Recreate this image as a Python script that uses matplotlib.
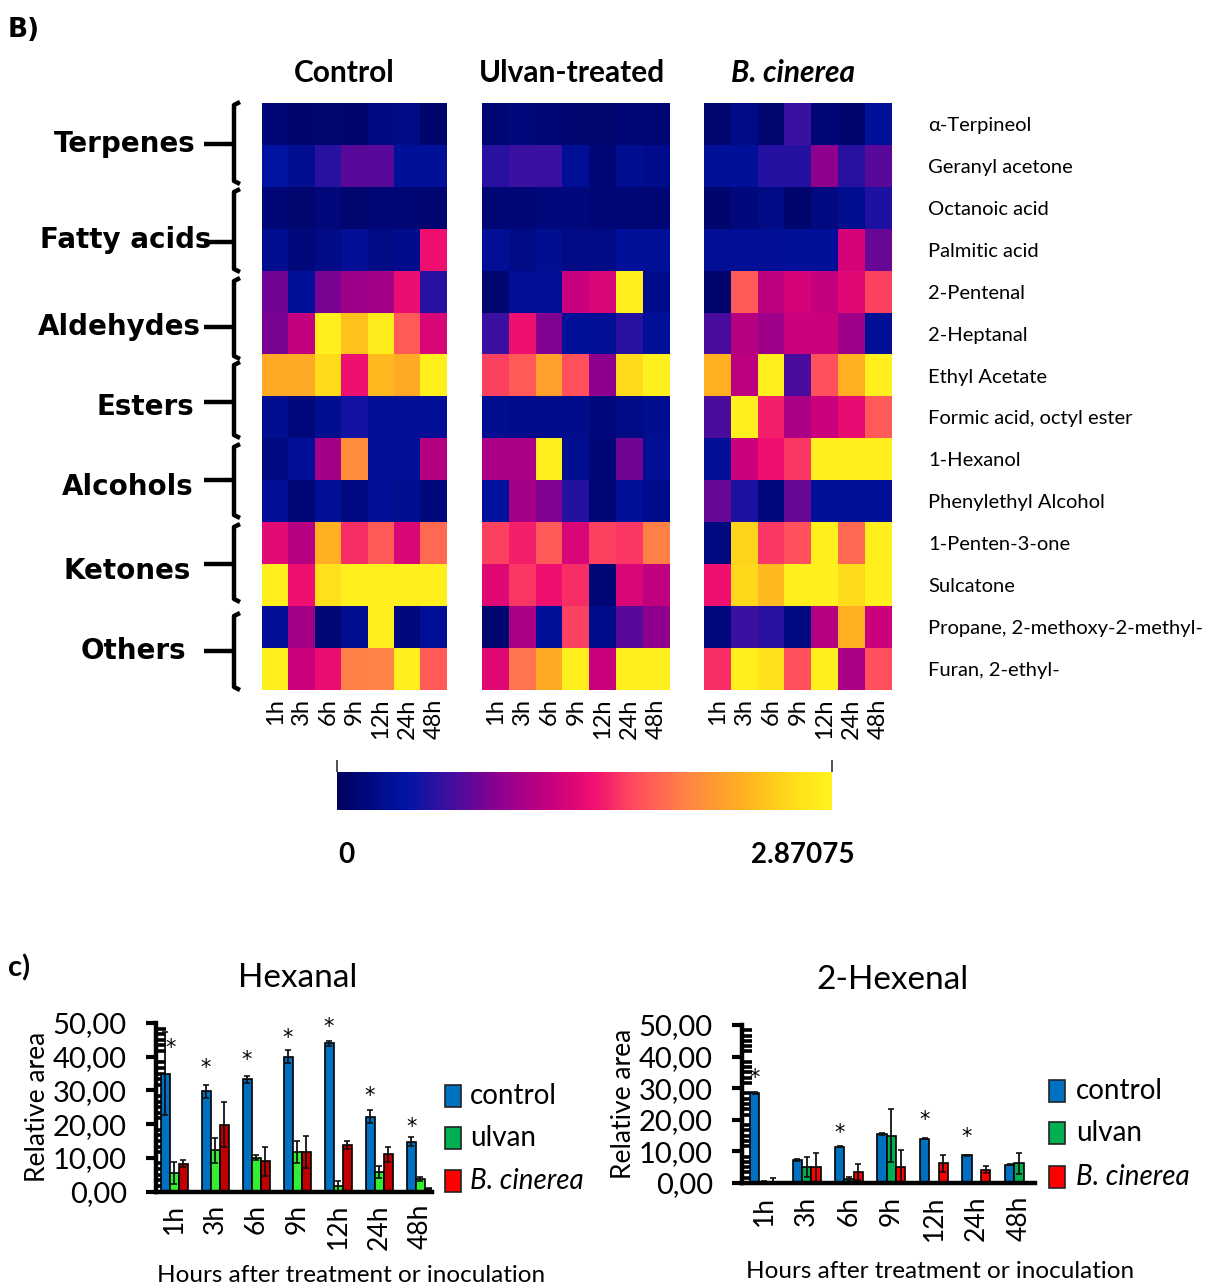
import numpy as np
import matplotlib
matplotlib.use("Agg")
import matplotlib.pyplot as plt
from matplotlib.colors import LinearSegmentedColormap
from matplotlib.patches import Rectangle
from matplotlib.ticker import MultipleLocator, FuncFormatter
from matplotlib import font_manager

W, H = 1210, 1286

# ---------------- data ----------------
timepoints = ["1h", "3h", "6h", "9h", "12h", "24h", "48h"]
compounds = ["α-Terpineol", "Geranyl acetone", "Octanoic acid", "Palmitic acid",
             "2-Pentenal", "2-Heptanal", "Ethyl Acetate", "Formic acid, octyl ester",
             "1-Hexanol", "Phenylethyl Alcohol", "1-Penten-3-one", "Sulcatone",
             "Propane, 2-methoxy-2-methyl-", "Furan, 2-ethyl-"]
groups = ["Terpenes", "Fatty acids", "Aldehydes", "Esters", "Alcohols", "Ketones", "Others"]
treatments = ["Control", "Ulvan-treated", "B. cinerea"]
scale_min, scale_max = 0, 2.87075

control_levels = [
    [0.14, 0.09, 0.11, 0.09, 0.20, 0.23, 0.09],
    [0.40, 0.29, 0.57, 0.75, 0.75, 0.34, 0.34],
    [0.14, 0.11, 0.17, 0.11, 0.14, 0.14, 0.11],
    [0.29, 0.17, 0.23, 0.32, 0.23, 0.26, 1.49],
    [0.83, 0.34, 0.86, 1.03, 1.06, 1.46, 0.57],
    [0.86, 1.23, 2.84, 2.47, 2.81, 1.81, 1.35],
    [2.30, 2.30, 2.64, 1.49, 2.41, 2.30, 2.84],
    [0.29, 0.17, 0.29, 0.49, 0.32, 0.32, 0.32],
    [0.20, 0.32, 1.06, 2.10, 0.32, 0.32, 1.15],
    [0.32, 0.14, 0.32, 0.20, 0.32, 0.29, 0.17],
    [1.41, 1.15, 2.35, 1.61, 1.81, 1.35, 1.89],
    [2.84, 1.49, 2.67, 2.84, 2.84, 2.84, 2.84],
    [0.32, 1.06, 0.14, 0.29, 2.84, 0.17, 0.32],
    [2.84, 1.26, 1.46, 2.01, 2.04, 2.84, 1.81],
]
ulvan_levels = [
    [0.14, 0.17, 0.14, 0.11, 0.11, 0.14, 0.14],
    [0.57, 0.63, 0.63, 0.32, 0.14, 0.29, 0.26],
    [0.14, 0.14, 0.17, 0.17, 0.14, 0.14, 0.14],
    [0.32, 0.23, 0.29, 0.23, 0.23, 0.34, 0.34],
    [0.11, 0.32, 0.32, 1.26, 1.35, 2.84, 0.26],
    [0.63, 1.49, 0.89, 0.34, 0.32, 0.57, 0.34],
    [1.69, 1.81, 2.24, 1.75, 0.95, 2.64, 2.84],
    [0.29, 0.26, 0.26, 0.26, 0.17, 0.23, 0.29],
    [1.09, 1.09, 2.84, 0.29, 0.14, 0.83, 0.32],
    [0.37, 1.06, 0.89, 0.55, 0.14, 0.34, 0.26],
    [1.69, 1.55, 1.81, 1.35, 1.69, 1.64, 2.01],
    [1.38, 1.64, 1.49, 1.61, 0.14, 1.35, 1.21],
    [0.11, 1.09, 0.34, 1.69, 0.26, 0.75, 0.95],
    [1.38, 1.95, 2.30, 2.84, 1.26, 2.84, 2.84],
]
cinerea_levels = [
    [0.11, 0.23, 0.11, 0.63, 0.14, 0.09, 0.34],
    [0.34, 0.34, 0.55, 0.55, 0.95, 0.57, 0.75],
    [0.09, 0.17, 0.23, 0.09, 0.20, 0.29, 0.52],
    [0.32, 0.32, 0.32, 0.34, 0.34, 1.32, 0.80],
    [0.09, 1.81, 1.18, 1.32, 1.23, 1.38, 1.69],
    [0.69, 1.15, 1.03, 1.26, 1.26, 1.03, 0.32],
    [2.35, 1.18, 2.84, 0.69, 1.75, 2.35, 2.84],
    [0.69, 2.84, 1.55, 1.09, 1.26, 1.44, 1.81],
    [0.32, 1.26, 1.49, 1.64, 2.84, 2.84, 2.84],
    [0.80, 0.52, 0.17, 0.80, 0.34, 0.34, 0.32],
    [0.20, 2.58, 1.64, 1.75, 2.84, 1.89, 2.84],
    [1.49, 2.61, 2.41, 2.84, 2.84, 2.64, 2.84],
    [0.17, 0.63, 0.57, 0.20, 1.15, 2.35, 1.26],
    [1.61, 2.84, 2.70, 1.75, 2.84, 1.09, 1.75],
]

series_names = ["control", "ulvan", "B. cinerea"]

hexanal_control = [35.0, 29.7, 33.3, 40.0, 44.0, 22.2, 14.8]
hexanal_control_err = [12.3, 2.0, 1.0, 2.0, 0.8, 2.0, 1.4]
hexanal_ulvan = [5.5, 12.2, 10.0, 11.8, 1.6, 5.8, 3.8]
hexanal_ulvan_err = [3.2, 3.6, 0.8, 3.3, 1.4, 1.8, 0.6]
hexanal_cinerea = [8.3, 19.8, 9.0, 11.8, 13.8, 11.0, 0.8]
hexanal_cinerea_err = [0.9, 6.7, 4.3, 4.7, 1.3, 2.3, 0.2]
hexanal_star = [42.6, 36.6, 39.0, 45.5, 48.8, 28.3, 19.1]

hexenal_control = [28.5, 7.3, 11.5, 15.5, 14.0, 8.8, 5.8]
hexenal_control_err = [0.3, 0.2, 0.2, 0.4, 0.2, 0.2, 0.2]
hexenal_ulvan = [0.4, 5.0, 1.2, 15.0, 0.0, 0.0, 6.2]
hexenal_ulvan_err = [0.2, 3.2, 0.6, 8.3, 0.0, 0.0, 3.4]
hexenal_cinerea = [0.1, 5.0, 3.5, 5.0, 6.2, 4.2, 0.0]
hexenal_cinerea_err = [1.4, 4.6, 2.6, 5.3, 2.6, 1.1, 0.0]
hexenal_star = [33.2, None, 15.8, None, 19.9, 14.6, None]

# ---------------- fonts ----------------
def available(name):
    try:
        font_manager.findfont(font_manager.FontProperties(family=name), fallback_to_default=False)
        return True
    except Exception:
        return False

SANS = "Lato" if available("Lato") else "DejaVu Sans"
NARROW = "Liberation Sans Narrow" if available("Liberation Sans Narrow") else SANS
NARROW_SIZE = 18 if NARROW == "Liberation Sans Narrow" else 14.5
GROUP_FONT = "DejaVu Sans"

plt.rcParams["font.family"] = [SANS, "DejaVu Sans"]

# ---------------- figure ----------------
fig = plt.figure(figsize=(W / 100, H / 100), dpi=100)
fig.patch.set_facecolor("white")


def box(x0, y0, x1, y1):
    return [x0 / W, 1 - y1 / H, (x1 - x0) / W, (y1 - y0) / H]


# overlay in pixel coordinates for free-standing labels and brackets
ov = fig.add_axes([0, 0, 1, 1])
ov.set_xlim(0, W)
ov.set_ylim(H, 0)
ov.axis("off")

heat_cmap = LinearSegmentedColormap.from_list("navy_plasma", [
    (0.00, "#00005e"), (0.14, "#0014a5"), (0.22, "#3a10a0"), (0.32, "#8a0090"),
    (0.44, "#cc007c"), (0.52, "#f01070"), (0.60, "#ff4a5e"), (0.70, "#ff8048"),
    (0.82, "#ffb020"), (0.93, "#ffe01a"), (1.00, "#fff21e")])

panel_boxes = [(262, 103, 447, 690), (482, 103, 670, 690), (704, 103, 892, 690)]
panel_data = [control_levels, ulvan_levels, cinerea_levels]
title_x = [344, 572, 793]

im = None
for k, (pb, levels) in enumerate(zip(panel_boxes, panel_data)):
    ax = fig.add_axes(box(*pb))
    im = ax.imshow(np.array(levels), cmap=heat_cmap, vmin=scale_min, vmax=scale_max,
                   aspect="auto", interpolation="nearest")
    for s in ax.spines.values():
        s.set_visible(False)
    ax.set_xticks(range(len(timepoints)))
    ax.set_xticklabels(timepoints, rotation=90, fontsize=17, family=SANS)
    ax.tick_params(axis="x", length=0, pad=6)
    if k == 2:
        ax.yaxis.tick_right()
        ax.set_yticks(range(len(compounds)))
        ax.set_yticklabels(compounds, fontsize=NARROW_SIZE, family=[NARROW, "DejaVu Sans"])
        ax.tick_params(axis="y", length=0, pad=26)
    else:
        ax.set_yticks([])
    ov.text(title_x[k], 73, treatments[k], ha="center", va="center", fontsize=21.5,
            fontweight="bold", style="italic" if k == 2 else "normal")

# colour scale bar
cax = fig.add_axes(box(337, 772, 832, 810))
cb = fig.colorbar(im, cax=cax, orientation="horizontal")
cb.outline.set_visible(False)
cax.xaxis.set_ticks_position("top")
cb.set_ticks([scale_min, scale_max])
cax.tick_params(axis="x", length=9, width=1.2, color="#333333", labeltop=False, labelbottom=False)
ov.text(346, 855, "0", ha="center", va="center", fontsize=20, fontweight="bold")
ov.text(803, 855, f"{scale_max:g}", ha="center", va="center", fontsize=20, fontweight="bold")

# compound-class brackets
bracket_spans = [(102, 184, 144), (189, 272, 242), (278, 359, 327), (362, 438, 402),
                 (444, 518, 480), (524, 602, 564), (613, 690, 651)]
label_pos = [(196, 144), (211, 240), (201, 327), (194, 407), (194, 487), (191, 571), (186, 651)]
bx = 234
for name, (top, bot, mid), (lx, ly) in zip(groups, bracket_spans, label_pos):
    ov.plot([bx + 6, bx, bx, bx + 6], [top, top + 3, bot - 3, bot], color="black",
            lw=3.2, solid_capstyle="butt", solid_joinstyle="round")
    ov.plot([204, bx], [mid, mid], color="black", lw=3.2, solid_capstyle="butt")
    ov.text(lx, ly, name, ha="right", va="center", fontsize=20, fontweight="bold",
            family=GROUP_FONT)

ov.text(8, 30, "B)", ha="left", va="center", fontsize=19, fontweight="bold", family="DejaVu Sans")
ov.text(8, 968, "c)", ha="left", va="center", fontsize=21, fontweight="bold")

# ---------------- bar charts ----------------
def comma_fmt(v, _):
    return f"{v:.2f}".replace(".", ",")


def bar_panel(pb, xlim, ctrl, ctrl_e, ulv, ulv_e, cin, cin_e, stars, colors, title, title_xy,
              star_shift, xlabel_xy):
    ax = fig.add_axes(box(*pb))
    x = np.arange(len(timepoints))
    w = 0.22
    ek = dict(ecolor="#111111", elinewidth=1.3, capsize=2, capthick=1.2)
    for off, vals, errs, col in [(-w, ctrl, ctrl_e, colors[0]), (0, ulv, ulv_e, colors[1]),
                                 (w, cin, cin_e, colors[2])]:
        ax.bar(x + off, vals, w, color=col, edgecolor="black", linewidth=1.2,
               yerr=errs, error_kw=ek, zorder=2)
    for i, s in enumerate(stars):
        if s is not None:
            ax.text(x[i] - w + (star_shift if i == 0 else 0), s, "*", ha="center",
                    va="center", fontsize=15, family="DejaVu Sans", clip_on=False)
    ax.set_xlim(*xlim)
    ax.set_ylim(0, 50)
    for side in ("top", "right"):
        ax.spines[side].set_visible(False)
    for side in ("left", "bottom"):
        ax.spines[side].set_linewidth(3.2)
    ax.yaxis.set_major_locator(MultipleLocator(10))
    ax.yaxis.set_minor_locator(MultipleLocator(10 / 6))
    ax.yaxis.set_major_formatter(FuncFormatter(comma_fmt))
    ax.tick_params(axis="y", which="major", direction="out", length=7, width=3, labelsize=21, pad=14)
    ax.tick_params(axis="y", which="minor", direction="in", length=7, width=2.6)
    ax.set_xticks(x)
    ax.set_xticklabels(timepoints, rotation=90, fontsize=19)
    ax.tick_params(axis="x", length=0, pad=9)
    ax.set_ylabel("Relative area", fontsize=19, labelpad=2)
    ov.text(xlabel_xy[0], xlabel_xy[1], "Hours after treatment or inoculation",
            ha="center", va="center", fontsize=17.5)
    ov.text(title_xy[0], title_xy[1], title, ha="center", va="center", fontsize=24)
    return ax


ax_h = bar_panel((156, 1023, 432, 1191.5), (-0.44, 6.29), hexanal_control, hexanal_control_err,
                 hexanal_ulvan, hexanal_ulvan_err, hexanal_cinerea, hexanal_cinerea_err,
                 hexanal_star, ["#0070c0", "#33ee33", "#c00000"], "Hexanal", (298, 978), 0.14,
                 (351, 1275))
ax_e = bar_panel((742, 1025, 1035, 1183), (-0.52, 6.38), hexenal_control, hexenal_control_err,
                 hexenal_ulvan, hexenal_ulvan_err, hexenal_cinerea, hexenal_cinerea_err,
                 hexenal_star, ["#0070c0", "#00b050", "#ff0000"], "2-Hexenal", (893, 980), 0.0,
                 (940, 1272))

# legends
legend_colors = ["#0070c0", "#00b050", "#ff0000"]
for (sx, tx, ys) in [(445, 470, [1096, 1138, 1181]), (1049, 1076, [1091, 1133, 1177])]:
    for name, col, y in zip(series_names, legend_colors, ys):
        ov.add_patch(Rectangle((sx, y - 11), 16, 22, facecolor=col, edgecolor="#222222", lw=1.2))
        ov.text(tx, y, name, ha="left", va="center", fontsize=20,
                style="italic" if name.startswith("B.") else "normal")

fig.savefig("out.png", dpi=100, facecolor="white")
